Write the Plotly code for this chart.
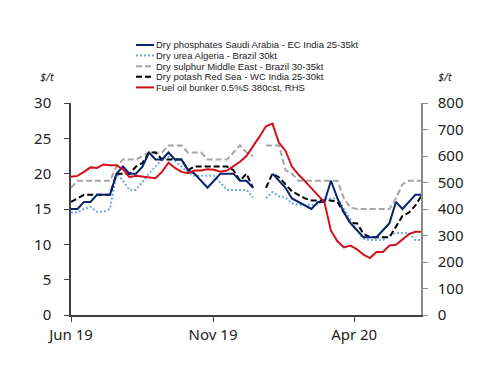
import datetime as dt
import plotly.graph_objects as go

N = 55
start = dt.date(2019, 6, 1)
dates = [start + dt.timedelta(days=7 * i) for i in range(N)]

phosphates = [15, 15, 16, 16, 17, 17, 17, 20, 21, 20, 20, 21, 23, 22, 22, 23, 22, 22, 20.5, 20,
              19, 18, 19, 20, 20, 20, 19, 19, 18, None, None, 20, 19, 18, 16.5, 16, 15.5, 15, 16, 16,
              19, 16.5, 14.5, 13, 12, 11, 11, 11, 12, 13, 16, 15, 16, 17, 17]
urea = [14.5, 14.5, 15, 15.3, 14.6, 14.6, 15, 20, 19, 17.7, 17.7, 18.9, 20, 21, 22, 22.4, 21.8, 21, 20.2, 19.7,
        19.7, 19.7, 19.7, 18.7, 17.7, 17.7, 17.7, 17.7, 16.6, None, 16.5, 17.4, 16.8, 16.6, 15.8, 15.6, 15.6, 15.6, 15.6, 16.5,
        16.5, 16.5, 15, 13.5, 12, 10.8, 10.6, 10.6, 10.6, 11.2, 11.6, 11.6, 11.6, 10.6, 10.6]
sulphur = [18, 19, 19, 19, 19, 19, 19, 21, 22, 22, 22, 22.5, 23, 23, 23, 24, 24, 24, 23, 23,
           23, 22, 22, 22, 22, 23, 24, 23, 22.5, None, 24, 24, 24, 20.5, 20, 19, 19, 19, 19, 19,
           19, 19, 16.5, 15.2, 15, 15, 15, 15, 15, 15, 16.5, 18.5, 19, 19, 19]
potash = [16, 16.5, 17, 17, 17, 17, 17, 20, 20, 20, 21, 21.5, 23, 23, 22, 22, 22, 22, 20.5, 21,
          21, 21, 21, 21, 21, 20.5, 19, 20, 18, None, 18, 20, 19.5, 18.5, 17.5, 17, 16.5, 16.2, 16.2, 16.2,
          16.2, 16, 14.5, 13, 13, 11.5, 11, 11, 11, 11, 12.5, 14, 14.5, 15.5, 17]
fuel_oil = [522, 525, 540, 557, 555, 568, 565, 565, 550, 520, 525, 522, 518, 516, 540, 575, 555, 540, 535, 545,
            545, 550, 548, 541, 545, 560, 578, 600, 635, 673, 712, 722, 650, 620, 560, 530, 505, 478, 450, 425,
            318, 278, 255, 262, 248, 228, 215, 238, 238, 262, 265, 285, 305, 314, 314]

names = ["Dry phosphates Saudi Arabia - EC India 25-35kt",
         "Dry urea Algeria - Brazil 30kt",
         "Dry sulphur Middle East - Brazil 30-35kt",
         "Dry potash Red Sea - WC India 25-30kt",
         "Fuel oil bunker 0.5%S 380cst, RHS"]
colors = ["#0b2370", "#6fa8e8", "#a6a6a6", "#000000", "#d0101b"]
dashes = ["solid", "2px,2px", "6px,3px", "6px,3px", "solid"]

FONT = "Noto Sans"
LFONT = "Liberation Sans"
fig = go.Figure()
series = [phosphates, urea, sulphur, potash]
order = [2, 1, 3, 0]
for i in order:
    fig.add_trace(go.Scatter(x=dates, y=series[i], mode="lines", name=names[i],
                             line=dict(color=colors[i], width=2, dash=dashes[i]),
                             connectgaps=False, showlegend=False, yaxis="y"))
fig.add_trace(go.Scatter(x=dates, y=fuel_oil, mode="lines", name=names[4],
                         line=dict(color=colors[4], width=2), showlegend=False, yaxis="y2"))

# page body has an 8px default margin: figure is drawn 8px lower/right
OFF = 8
W, H = 500 - OFF, 386 - OFF
L, R, T, B = 71, 421, 103, 315   # plot area in reference pixels

def px(x):
    return (x - L) / (R - L)

def py(y):
    return (B - y) / (B - T)

shapes = []
annotations = []
for j in range(5):
    yy = 45.0 + 10.6 * j
    shapes.append(dict(type="line", xref="paper", yref="paper",
                       x0=px(136), x1=px(154), y0=py(yy), y1=py(yy),
                       line=dict(color=colors[j], width=2, dash=dashes[j])))
    annotations.append(dict(text=names[j], xref="paper", yref="paper", x=px(153.5), y=py(yy),
                            xanchor="left", yanchor="middle", showarrow=False,
                            font=dict(size=9.5, color="#222222", family=LFONT)))
annotations.append(dict(text="<i>$/t</i>", xref="paper", yref="paper", x=px(47), y=py(77),
                        xanchor="center", yanchor="middle", showarrow=False,
                        font=dict(size=11, color="#222222", family=FONT)))
annotations.append(dict(text="<i>$/t</i>", xref="paper", yref="paper", x=px(445), y=py(77),
                        xanchor="center", yanchor="middle", showarrow=False,
                        font=dict(size=11, color="#222222", family=FONT)))

fig.update_layout(
    width=W, height=H,
    margin=dict(l=L - OFF, r=W - (R - OFF), t=T - OFF, b=H - (B - OFF), pad=0),
    paper_bgcolor="white", plot_bgcolor="white",
    font=dict(family=FONT, size=14, color="#222222"),
    shapes=shapes, annotations=annotations,
    xaxis=dict(type="date", range=["2019-06-01", "2020-06-12"],
               tick0="2019-06-01", dtick="M5", tickformat="%b %y",
               showgrid=False, zeroline=False, showline=True, linecolor="#404040", linewidth=1.5,
               ticks="outside", ticklen=5, tickcolor="#404040", tickfont=dict(size=15),
               ticklabelstandoff=0),
    yaxis=dict(range=[0, 30], dtick=5, showgrid=False, zeroline=False,
               showline=True, linecolor="#404040", linewidth=1.5,
               ticks="outside", ticklen=5, tickcolor="#404040", tickfont=dict(size=15),
               ticklabelstandoff=10),
    yaxis2=dict(range=[0, 800], dtick=100, overlaying="y", side="right", showgrid=False,
                zeroline=False, showline=True, linecolor="#8c8c8c", linewidth=1.5,
                ticks="outside", ticklen=5, tickcolor="#8c8c8c", tickfont=dict(size=15),
                ticklabelstandoff=7),
)

fig.write_html("out.html")
